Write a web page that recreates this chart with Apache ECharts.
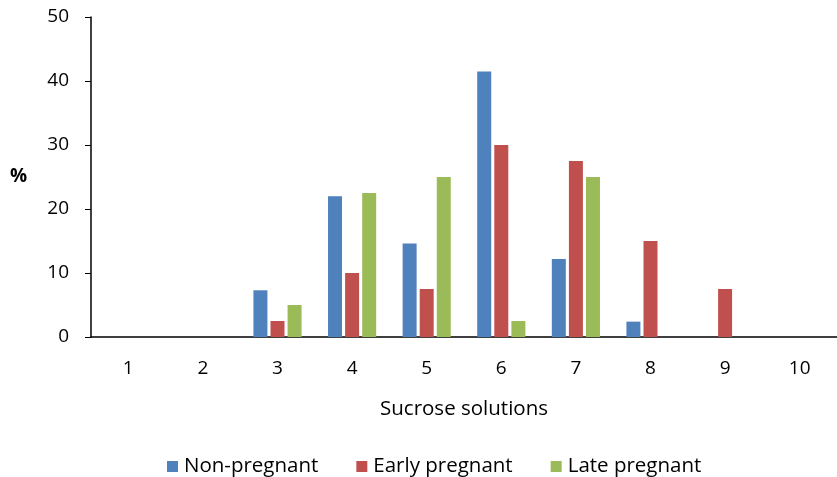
<!DOCTYPE html>
<html><head><meta charset="utf-8">
<script src="https://cdn.jsdelivr.net/npm/echarts@6/dist/echarts.min.js"></script>
<style>html,body{margin:0;padding:0;background:#fff}#c{width:837px;height:477px}</style>
</head><body><div id="c"></div>
<script>
const categories = ['1','2','3','4','5','6','7','8','9','10'];
const nonPregnant = [0,0,7.3,22,14.6,41.5,12.2,2.4,0,0];
const earlyPregnant = [0,0,2.5,10,7.5,30,27.5,15,7.5,0];
const latePregnant = [0,0,5,22.5,25,2.5,25,0,0,0];
const seriesNames = ['Non-pregnant','Early pregnant','Late pregnant'];
const colors = ['#4F81BD','#C0504D','#9BBB59'];
const font = '"Open Sans", "Noto Sans", sans-serif';
const chart = echarts.init(document.getElementById('c'));
const mk = (name, data, color) => ({
  name, type:'bar', data, barWidth:14, barGap:'22%',
  itemStyle:{color, borderWidth:0}
});
chart.setOption({
  animation:false,
  textStyle:{fontFamily:font},
  grid:{left:91, right:0, top:17, bottom:140},
  legend:{top:451, left:162, itemWidth:11, itemHeight:11, itemGap:38,
    icon:'rect', textStyle:{fontSize:20.5, color:'#000', fontFamily:font, padding:[0,0,0,1]}},
  xAxis:{type:'category', data:categories,
    axisLine:{lineStyle:{color:'#000', width:1.5}}, axisTick:{show:false},
    axisLabel:{fontSize:19, color:'#000', margin:22},
    name:'Sucrose solutions', nameLocation:'middle', nameGap:62,
    nameTextStyle:{fontSize:20.5, color:'#000'}},
  yAxis:{type:'value', min:0, max:50, interval:10,
    axisLine:{show:true, lineStyle:{color:'#000', width:1.5}},
    axisTick:{show:true, length:6, lineStyle:{color:'#000'}},
    splitLine:{show:false},
    axisLabel:{fontSize:19, color:'#000', margin:22},
    name:'%', nameLocation:'middle', nameGap:64, nameRotate:0,
    nameTextStyle:{fontSize:19, color:'#000', fontWeight:'bold'}},
  series:[mk(seriesNames[0], nonPregnant, colors[0]), mk(seriesNames[1], earlyPregnant, colors[1]), mk(seriesNames[2], latePregnant, colors[2])]
});
</script></body></html>
